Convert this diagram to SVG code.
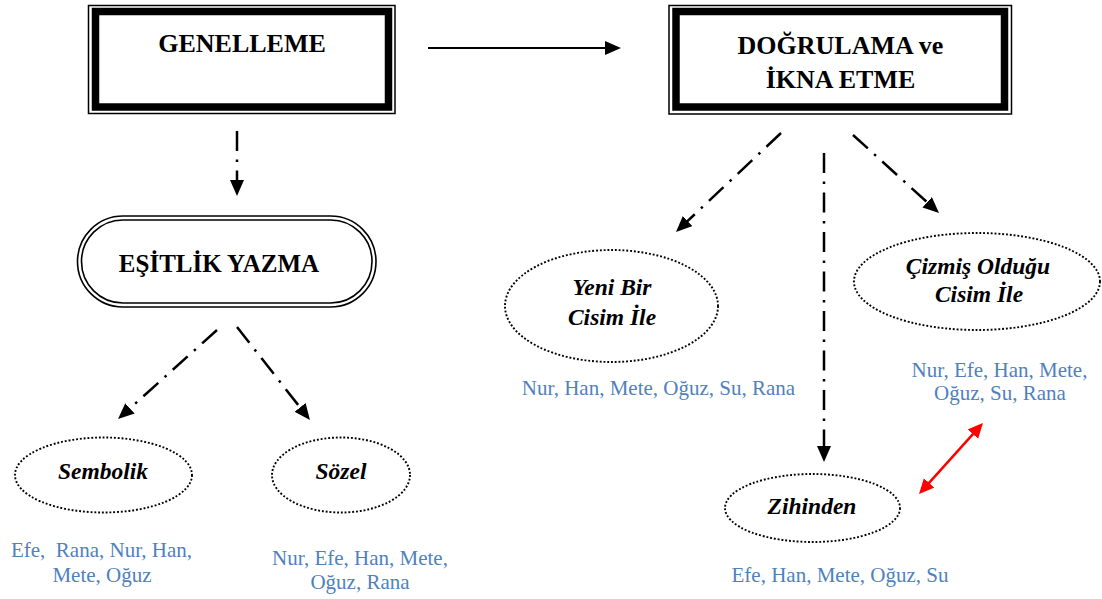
<svg xmlns="http://www.w3.org/2000/svg" width="1102" height="599" viewBox="0 0 1102 599">
  <style>
    .bg { fill: #ffffff; }
    .frame-thin { fill: none; stroke: #000; stroke-width: 1.5; }
    .frame-thick { fill: none; stroke: #000; stroke-width: 7.5; }
    .pill { fill: none; stroke: #000; stroke-width: 1.6; }
    .oval { fill: none; stroke: #000; stroke-width: 1.9; stroke-dasharray: 1.9 1.9; }
    text { font-family: 'Liberation Serif', 'DejaVu Serif', serif; }
    .head { font-weight: bold; font-size: 26px; fill: #000; text-anchor: middle; }
    .leaf { font-weight: bold; font-style: italic; font-size: 23.5px; fill: #000; text-anchor: middle; }
    .names { font-size: 21px; fill: #4f81bd; text-anchor: middle; white-space: pre; }
    .dashdot { fill: none; stroke: #000; stroke-width: 2.5; stroke-dasharray: 20 8.5 2.5 8.5; marker-end: url(#head-black); }
    .solid { fill: none; stroke: #000; stroke-width: 2; marker-end: url(#head-black); }
    .red { fill: none; stroke: #ff0000; stroke-width: 2.5; marker-start: url(#head-red); marker-end: url(#head-red); }
  </style>
  <defs>
    <marker id="head-black" markerUnits="userSpaceOnUse" markerWidth="18" markerHeight="16" refX="1" refY="7" orient="auto">
      <path d="M0,0 L16,7 L0,14 z" fill="#000"/>
    </marker>
    <marker id="head-red" markerUnits="userSpaceOnUse" markerWidth="18" markerHeight="16" refX="1" refY="7" orient="auto-start-reverse">
      <path d="M0,0 L15,7 L0,14 z" fill="#ff0000"/>
    </marker>
  </defs>

  <rect class="bg" x="0" y="0" width="1102" height="599"/>

  <!-- top-level boxes: thin outer rule + heavy inner rule -->
  <g id="genelleme">
    <rect class="frame-thin" x="88.5" y="5.5" width="306.5" height="108"/>
    <rect class="frame-thick" x="95.5" y="11.5" width="293" height="95.5"/>
    <text class="head" x="242" y="52" font-family="Liberation Serif, serif">GENELLEME</text>
  </g>

  <g id="dogrulama">
    <rect class="frame-thin" x="669" y="5.5" width="342.5" height="108.5"/>
    <rect class="frame-thick" x="676" y="11.5" width="328.5" height="95.5"/>
    <text class="head" x="840.5" y="54">DOĞRULAMA ve</text>
    <text class="head" x="840.5" y="88">İKNA ETME</text>
  </g>

  <!-- double-ruled rounded node -->
  <g id="esitlik-yazma">
    <rect class="pill" x="77.5" y="216" width="298.5" height="91" rx="45.5" ry="45.5"/>
    <rect class="pill" x="81.5" y="220" width="290.5" height="83" rx="41.5" ry="41.5"/>
    <text class="head" x="219" y="272" style="font-size:25px">EŞİTLİK YAZMA</text>
  </g>

  <!-- dotted leaf nodes -->
  <g id="sembolik">
    <ellipse class="oval" cx="103.5" cy="475" rx="88.5" ry="37.5"/>
    <text class="leaf" x="103" y="479">Sembolik</text>
  </g>
  <g id="sozel">
    <ellipse class="oval" cx="341" cy="475" rx="69" ry="37.5"/>
    <text class="leaf" x="341" y="479">Sözel</text>
  </g>
  <g id="yeni-bir">
    <ellipse class="oval" cx="611.5" cy="306" rx="106.5" ry="56"/>
    <text class="leaf" x="612" y="295">Yeni Bir</text>
    <text class="leaf" x="612" y="325">Cisim İle</text>
  </g>
  <g id="cizmis">
    <ellipse class="oval" cx="977" cy="281.5" rx="123" ry="48.5"/>
    <text class="leaf" x="978" y="274">Çizmiş Olduğu</text>
    <text class="leaf" x="979" y="302">Cisim İle</text>
  </g>
  <g id="zihinden">
    <ellipse class="oval" cx="812.5" cy="508" rx="87.5" ry="34"/>
    <text class="leaf" x="812" y="514">Zihinden</text>
  </g>

  <!-- name lists under each leaf -->
  <g id="names-sembolik">
    <text class="names" x="101.5" y="557">Efe,  Rana, Nur, Han,</text>
    <text class="names" x="102" y="582">Mete, Oğuz</text>
  </g>
  <g id="names-sozel">
    <text class="names" x="360" y="565">Nur, Efe, Han, Mete,</text>
    <text class="names" x="360" y="589">Oğuz, Rana</text>
  </g>
  <g id="names-yeni-bir">
    <text class="names" x="658.5" y="395">Nur, Han, Mete, Oğuz, Su, Rana</text>
  </g>
  <g id="names-cizmis">
    <text class="names" x="999.5" y="377">Nur, Efe, Han, Mete,</text>
    <text class="names" x="1000" y="400">Oğuz, Su, Rana</text>
  </g>
  <g id="names-zihinden">
    <text class="names" x="840" y="582">Efe, Han, Mete, Oğuz, Su</text>
  </g>

  <!-- connectors -->
  <g id="connectors">
    <line class="solid" x1="428" y1="48" x2="606" y2="48"/>
    <line class="dashdot" x1="237" y1="131" x2="237" y2="181"/>
    <line class="dashdot" x1="217" y1="330" x2="129.2" y2="409"/>
    <line class="dashdot" x1="237" y1="327" x2="300.7" y2="408.2"/>
    <line class="dashdot" x1="781" y1="133" x2="686.9" y2="221.7"/>
    <line class="dashdot" x1="824" y1="153" x2="824" y2="447"/>
    <line class="dashdot" x1="853" y1="135" x2="927.9" y2="202.9"/>
    <line class="red" x1="928.4" y1="483.6" x2="973.6" y2="433.4"/>
  </g>
</svg>
